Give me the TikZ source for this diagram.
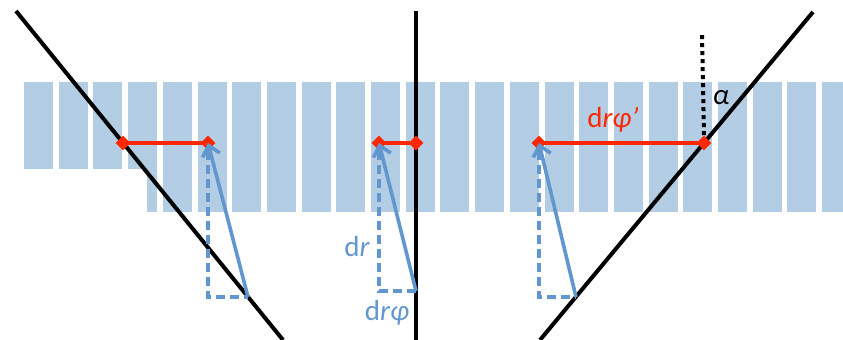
\documentclass[tikz,border=0pt]{standalone}
\usepackage{fontspec}
\setmainfont{Carlito}
\usepackage{tikz}
\usetikzlibrary{arrows.meta,shapes.geometric}
\definecolor{stripe}{HTML}{B3CDE4}
\definecolor{ray}{HTML}{6197CE}
\definecolor{chord}{HTML}{FF2800}

\tikzset{
  edge/.style={line width=2pt, black},
  hit/.style={diamond, fill=chord, inner sep=0pt, minimum size=7.5pt},
  span/.style={line width=2pt, chord},
  ray arrow/.style={line width=1.8pt, ray, -{Straight Barb[length=5pt,width=9pt]}},
  ray leg/.style={line width=1.8pt, ray, dash pattern=on 4.5pt off 2.5pt},
}

\begin{document}
\begin{tikzpicture}[x=0.5pt, y=-0.5pt, font=\fontsize{14.5}{17}\selectfont]
  \useasboundingbox (0,0) rectangle (843,340);

  % --- pixel columns (notched at the lower left) ---
  \begin{scope}
    \clip (24,82) -- (843,82) -- (843,212) -- (147,212) -- (147,169) -- (24,169) -- cycle;
    \foreach \k in {0,...,23} {
      \fill[stripe] ({24+34.7*\k},82) rectangle ++(29,130);
    }
  \end{scope}

  % --- the three edges ---
  \coordinate (ltop) at (16,11);
  \coordinate (lbot) at (283,340);
  \coordinate (mtop) at (416,11);
  \coordinate (mbot) at (416,340);
  \coordinate (rtop) at (813,12);
  \coordinate (rbot) at (540,340);
  \draw[edge] (ltop) -- (lbot);
  \draw[edge] (mtop) -- (mbot);
  \draw[edge] (rtop) -- (rbot);

  % feet of the blue arrows
  \coordinate (lfoot) at (248,297);
  \coordinate (mfoot) at (416,291);
  \coordinate (rfoot) at (576,297);

  % --- hit points ---
  \node[hit] (l1) at (123,143) {};
  \node[hit] (l2) at (208,143) {};
  \node[hit] (m1) at (379,143) {};
  \node[hit] (m2) at (416,143) {};
  \node[hit] (r1) at (539,143) {};
  \node[hit] (r2) at (704,143) {};

  \draw[span] (l1.center) -- (l2.center);
  \draw[span] (m1.center) -- (m2.center);
  \draw[span] (r1.center) -- (r2.center);

  % --- displacement triangles ---
  \draw[ray leg] (l2.south) |- (lfoot);
  \draw[ray arrow] (lfoot) -- (l2.center);
  \draw[ray leg] (m1.south) |- (mfoot);
  \draw[ray arrow] (mfoot) -- (m1.center);
  \draw[ray leg] (r1.south) |- (rfoot);
  \draw[ray arrow] (rfoot) -- (r1.center);

  % angle to the vertical
  \coordinate (vtop) at (702,34);
  \draw[line width=2pt, dash pattern=on 2pt off 2pt] (r2.north) -- (vtop);

  % --- labels ---
  \node[text=ray] (dr) at (357,247) {d\textit{r}};
  \node[text=ray] (drphi) at (387,313) {d\textit{rφ}};
  \node[text=chord] (drphip) at (613,120) {d\textit{rφ’}};
  \node (alpha) at (721,98) {\textit{α}};
\end{tikzpicture}
\end{document}
